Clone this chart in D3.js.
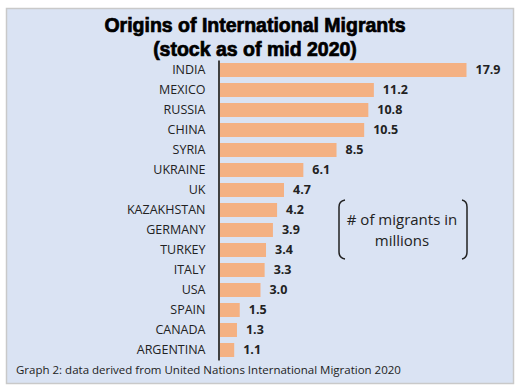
<!DOCTYPE html>
<html><head><meta charset="utf-8">
<script src="https://cdn.jsdelivr.net/npm/d3@7"></script>
<style>body{margin:0;background:#fff}svg{display:block}</style>
</head><body>
<script>
const countries = ["INDIA","MEXICO","RUSSIA","CHINA","SYRIA","UKRAINE","UK","KAZAKHSTAN","GERMANY","TURKEY","ITALY","USA","SPAIN","CANADA","ARGENTINA"];
const migrants = [17.9,11.2,10.8,10.5,8.5,6.1,4.7,4.2,3.9,3.4,3.3,3.0,1.5,1.3,1.1];
const titleLines = ["Origins of International Migrants","(stock as of mid 2020)"];
const noteLines = ["# of migrants in","millions"];
const footnote = "Graph 2: data derived from United Nations International Migration 2020";

const W=526,H=390;
const svg=d3.select("body").append("svg").attr("width",W).attr("height",H);
svg.append("rect").attr("x",6.5).attr("y",8.5).attr("width",507).attr("height",375)
  .attr("fill","#dae3f3").attr("stroke","#c9c9c9").attr("stroke-width",1.5);

const font="'Open Sans', Lato, sans-serif";
svg.append("g").selectAll("text").data(titleLines).join("text")
  .attr("x",255).attr("y",(d,i)=>32+i*24).attr("text-anchor","middle")
  .attr("font-family","'Liberation Sans', Arial, sans-serif").attr("font-weight","bold")
  .attr("font-size",19.5).attr("fill","#000").attr("stroke","#000").attr("stroke-width",0.7).text(d=>d);

const x0=219;
const x=d3.scaleLinear().domain([0,17.9]).range([x0,466.5]);
const y=d3.scaleBand().domain(countries).range([60,360]).paddingInner(0.3).paddingOuter(0.15);

svg.append("g").selectAll("rect").data(countries).join("rect")
  .attr("x",x(0)).attr("y",d=>y(d)).attr("height",y.bandwidth())
  .attr("width",(d,i)=>x(migrants[i])-x(0)).attr("fill","#f4b183");

const ax=d3.axisLeft(y).tickSize(0).tickPadding(13);
const g=svg.append("g").attr("transform",`translate(${x0-0.5},0)`).call(ax);
g.select(".domain").attr("stroke","#404040").attr("stroke-width",2);
g.selectAll("text").attr("font-family",font).attr("font-size",12.5).attr("fill","#222");

svg.append("g").selectAll("text").data(countries).join("text")
  .attr("x",(d,i)=>x(migrants[i])+9).attr("y",d=>y(d)+y.bandwidth()/2).attr("dy","0.35em")
  .attr("font-family",font).attr("font-weight","bold").attr("font-size",12.5).attr("fill","#222")
  .text((d,i)=>migrants[i].toFixed(1));

svg.append("g").selectAll("text").data(noteLines).join("text")
  .attr("x",402).attr("y",(d,i)=>225+i*21).attr("text-anchor","middle")
  .attr("font-family",font).attr("font-size",15).attr("fill","#222").text(d=>d);

const br=svg.append("g").attr("fill","none").attr("stroke","#222").attr("stroke-width",1.5);
br.append("path").attr("d","M345,200 Q339,201 339,207 L339,252 Q339,258 345,259");
br.append("path").attr("d","M462,200 Q467,201 467,207 L467,252 Q467,258 462,259");

svg.append("text").attr("x",16).attr("y",374).attr("font-family",font).attr("font-size",11.5)
  .attr("fill","#222").text(footnote);
</script>
</body></html>
